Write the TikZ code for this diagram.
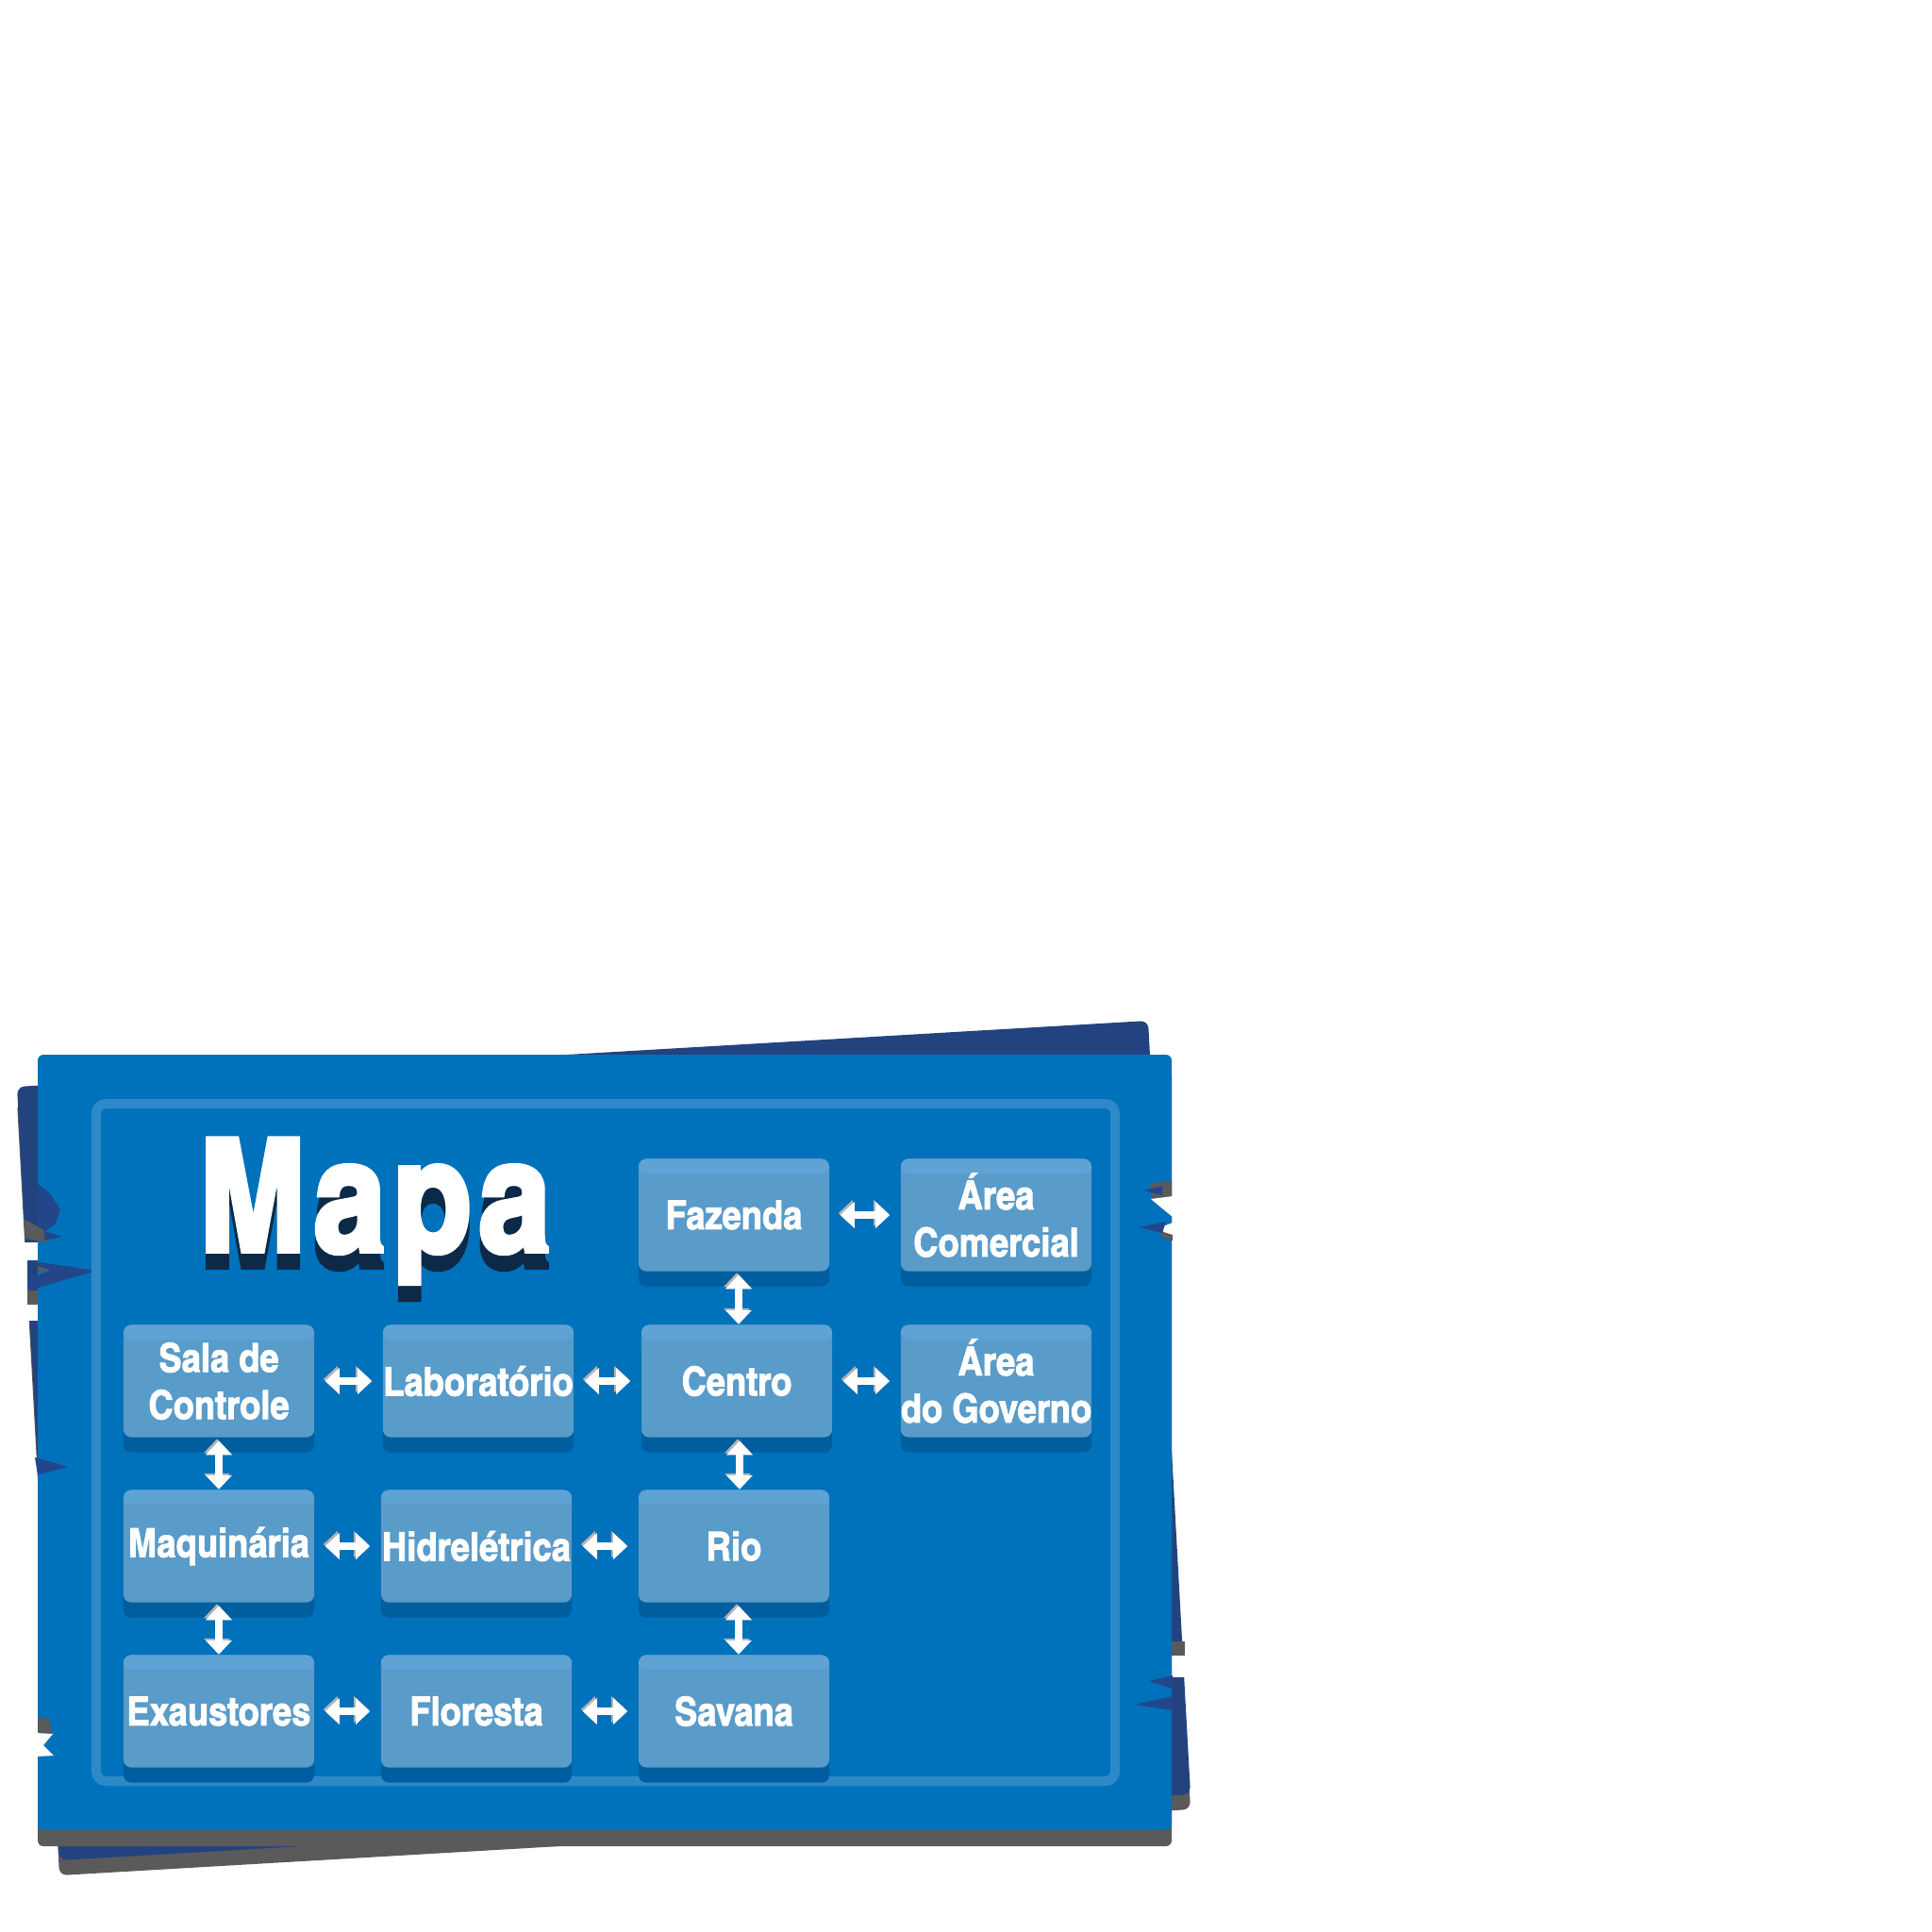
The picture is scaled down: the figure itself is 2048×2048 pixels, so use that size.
\documentclass[tikz,border=0pt]{standalone}
\usepackage{fontspec}
\usetikzlibrary{arrows.meta}
\newfontfamily\boxfont[FakeStretch=1.05,FakeBold=2]{texgyreheroscn-bold.otf}
\newfontfamily\mapafont[FakeBold=3.5,LetterSpace=5]{texgyreheroscn-bold.otf}
\definecolor{mainblue}{HTML}{0071BB}
\definecolor{backblue}{HTML}{22437F}
\definecolor{spikeblue}{HTML}{23468A}
\definecolor{shgrey}{HTML}{5A5A5A}
\definecolor{framec}{HTML}{2E89C8}
\definecolor{boxfill}{HTML}{599BC9}
\definecolor{boxtop}{HTML}{5EA3D4}
\definecolor{boxshadow}{HTML}{005E9F}
\definecolor{mapash}{HTML}{0C2A48}
\definecolor{arrowsh}{HTML}{B4B4B4}
\newcommand\mapalbl[1]{\makebox[0pt][l]{\raisebox{-0.17cm}{\color{mapash}#1}}#1}
\begin{document}
\begin{tikzpicture}[x=0.01cm,y=-0.01cm,
  boxst/.style={rounded corners=0.08cm, fill=boxfill, minimum width=2.02cm, minimum height=1.19cm,
    inner sep=0pt, text=white, align=center,
    font={\boxfont\fontsize{12pt}{14.2pt}\selectfont},
    preaction={fill=boxshadow, transform canvas={yshift=-0.16cm}},
    path picture={\fill[boxtop] (path picture bounding box.north west) rectangle ([yshift=-0.16cm]path picture bounding box.north east);}},
  dbl/.style={draw=white, line width=0.085cm,
    {Triangle[width=0.27cm 0 0,length=0.15cm 0 0]}-{Triangle[width=0.27cm 0 0,length=0.15cm 0 0]},
    preaction={draw=arrowsh, transform canvas={shift={(-0.02cm,0.02cm)}}}},
  hdbl/.style={dbl, shorten <=0.11cm, shorten >=0.11cm},
  vdbl/.style={dbl, shorten <=0.03cm, shorten >=0.0cm}
]
\useasboundingbox (0,0) rectangle (2048,2048);
% back board
\fill[shgrey, rounded corners=0.08cm] (18,1168) -- (1217,1098) -- (1262,1918) -- (63,1988) -- cycle;
\fill[backblue, rounded corners=0.08cm] (18,1152) -- (1217,1082) -- (1262,1902) -- (63,1972) -- cycle;
% notches in back board (left)
\fill[white] (0,1317) rectangle (40,1336);
\fill[white] (0,1383) rectangle (40,1400);
\fill[white] (0,1336) rectangle (29,1383);
% notches in back board (right)
\fill[shgrey] (1242,1740) rectangle (1256,1755);
\fill[white] (1242,1755) rectangle (1262,1778);
% main board
\fill[shgrey, rounded corners=0.06cm] (40,1134) rectangle (1242,1957);
\fill[mainblue, rounded corners=0.06cm] (40,1118) rectangle (1242,1940);
% left jags
\fill[spikeblue] (40,1255) -- (52,1264) -- (64,1282) -- (58,1298) -- (48,1305) -- (40,1303) -- cycle;
\fill[shgrey] (25,1292) -- (45,1303) -- (53,1312) -- (50,1317) -- (27,1313) -- cycle;
\fill[spikeblue] (47,1305) -- (66,1311) -- (47,1315) -- cycle;
\fill[spikeblue] (35,1337) -- (102,1347) -- (30,1368) -- (29,1355) -- (40,1352) -- (53,1347) -- (40,1343) -- cycle;
\fill[shgrey] (40,1342) -- (53,1346) -- (40,1349) -- cycle;
\fill[shgrey] (29,1368) rectangle (40,1383);
\fill[spikeblue] (37,1545) -- (72,1555) -- (40,1563) -- cycle;
\fill[shgrey] (40,1820) -- (52,1822) -- (55,1837) -- (40,1838) -- cycle;
\fill[white] (38,1837) -- (56,1838) -- (46,1850) -- (57,1861) -- (38,1862) -- cycle;
% right jags
\fill[shgrey] (1219,1254) -- (1242,1252) -- (1242,1270) -- (1222,1272) -- cycle;
\fill[spikeblue] (1232,1257) -- (1212,1262) -- (1232,1267) -- cycle;
\fill[white] (1243,1268) -- (1220,1271) -- (1232,1281) -- (1243,1290) -- cycle;
\fill[white] (1243,1296) -- (1228,1302) -- (1243,1312) -- cycle;
\fill[shgrey] (1230,1305) -- (1243,1309) -- (1243,1315) -- (1232,1312) -- cycle;
\fill[spikeblue] (1236,1295) -- (1208,1301) -- (1232,1307) -- cycle;
\fill[spikeblue] (1243,1776) -- (1218,1782) -- (1243,1790) -- cycle;
\fill[spikeblue] (1243,1798) -- (1203,1807) -- (1243,1813) -- cycle;
% frame
\draw[framec, line width=0.1cm, rounded corners=0.1cm] (102,1170) rectangle (1182,1888);
% title
\node[font={\mapafont\fontsize{47pt}{50pt}\selectfont}, text=white, anchor=base west, inner sep=0pt] (mapa) at (211,1326) {\mapalbl{Mapa}};
% boxes
\node[boxst] (faz) at (778,1288) {Fazenda};
\node[boxst] (com) at (1056,1288) {Área\\Comercial};
\node[boxst] (sala) at (232,1464) {Sala de\\Controle};
\node[boxst] (lab) at (507,1464) {Laboratório};
\node[boxst] (cen) at (781,1464) {Centro};
\node[boxst] (gov) at (1056,1464) {Área\\do Governo};
\node[boxst] (maq) at (232,1639) {Maquinária};
\node[boxst] (hid) at (505,1639) {Hidrelétrica};
\node[boxst] (rio) at (778,1639) {Rio};
\node[boxst] (exa) at (232,1814) {Exaustores};
\node[boxst] (flo) at (505,1814) {Floresta};
\node[boxst] (sav) at (778,1814) {Savana};
% horizontal connectors
\draw[hdbl] (faz) -- (com);
\draw[hdbl] (sala) -- (lab);
\draw[hdbl] (lab) -- (cen);
\draw[hdbl] (cen) -- (gov);
\draw[hdbl] (maq) -- (hid);
\draw[hdbl] (hid) -- (rio);
\draw[hdbl] (exa) -- (flo);
\draw[hdbl] (flo) -- (sav);
% vertical connectors
\draw[vdbl] ([xshift=0.05cm]faz.south) -- ([xshift=0.05cm]faz.south |- cen.north);
\draw[vdbl] ([xshift=0.03cm]cen.south) -- ([xshift=0.03cm]cen.south |- rio.north);
\draw[vdbl] ([xshift=0.05cm]rio.south) -- ([xshift=0.05cm]rio.south |- sav.north);
\draw[vdbl] (sala.south) -- (sala.south |- maq.north);
\draw[vdbl] (maq.south) -- (maq.south |- exa.north);
\end{tikzpicture}
\end{document}
